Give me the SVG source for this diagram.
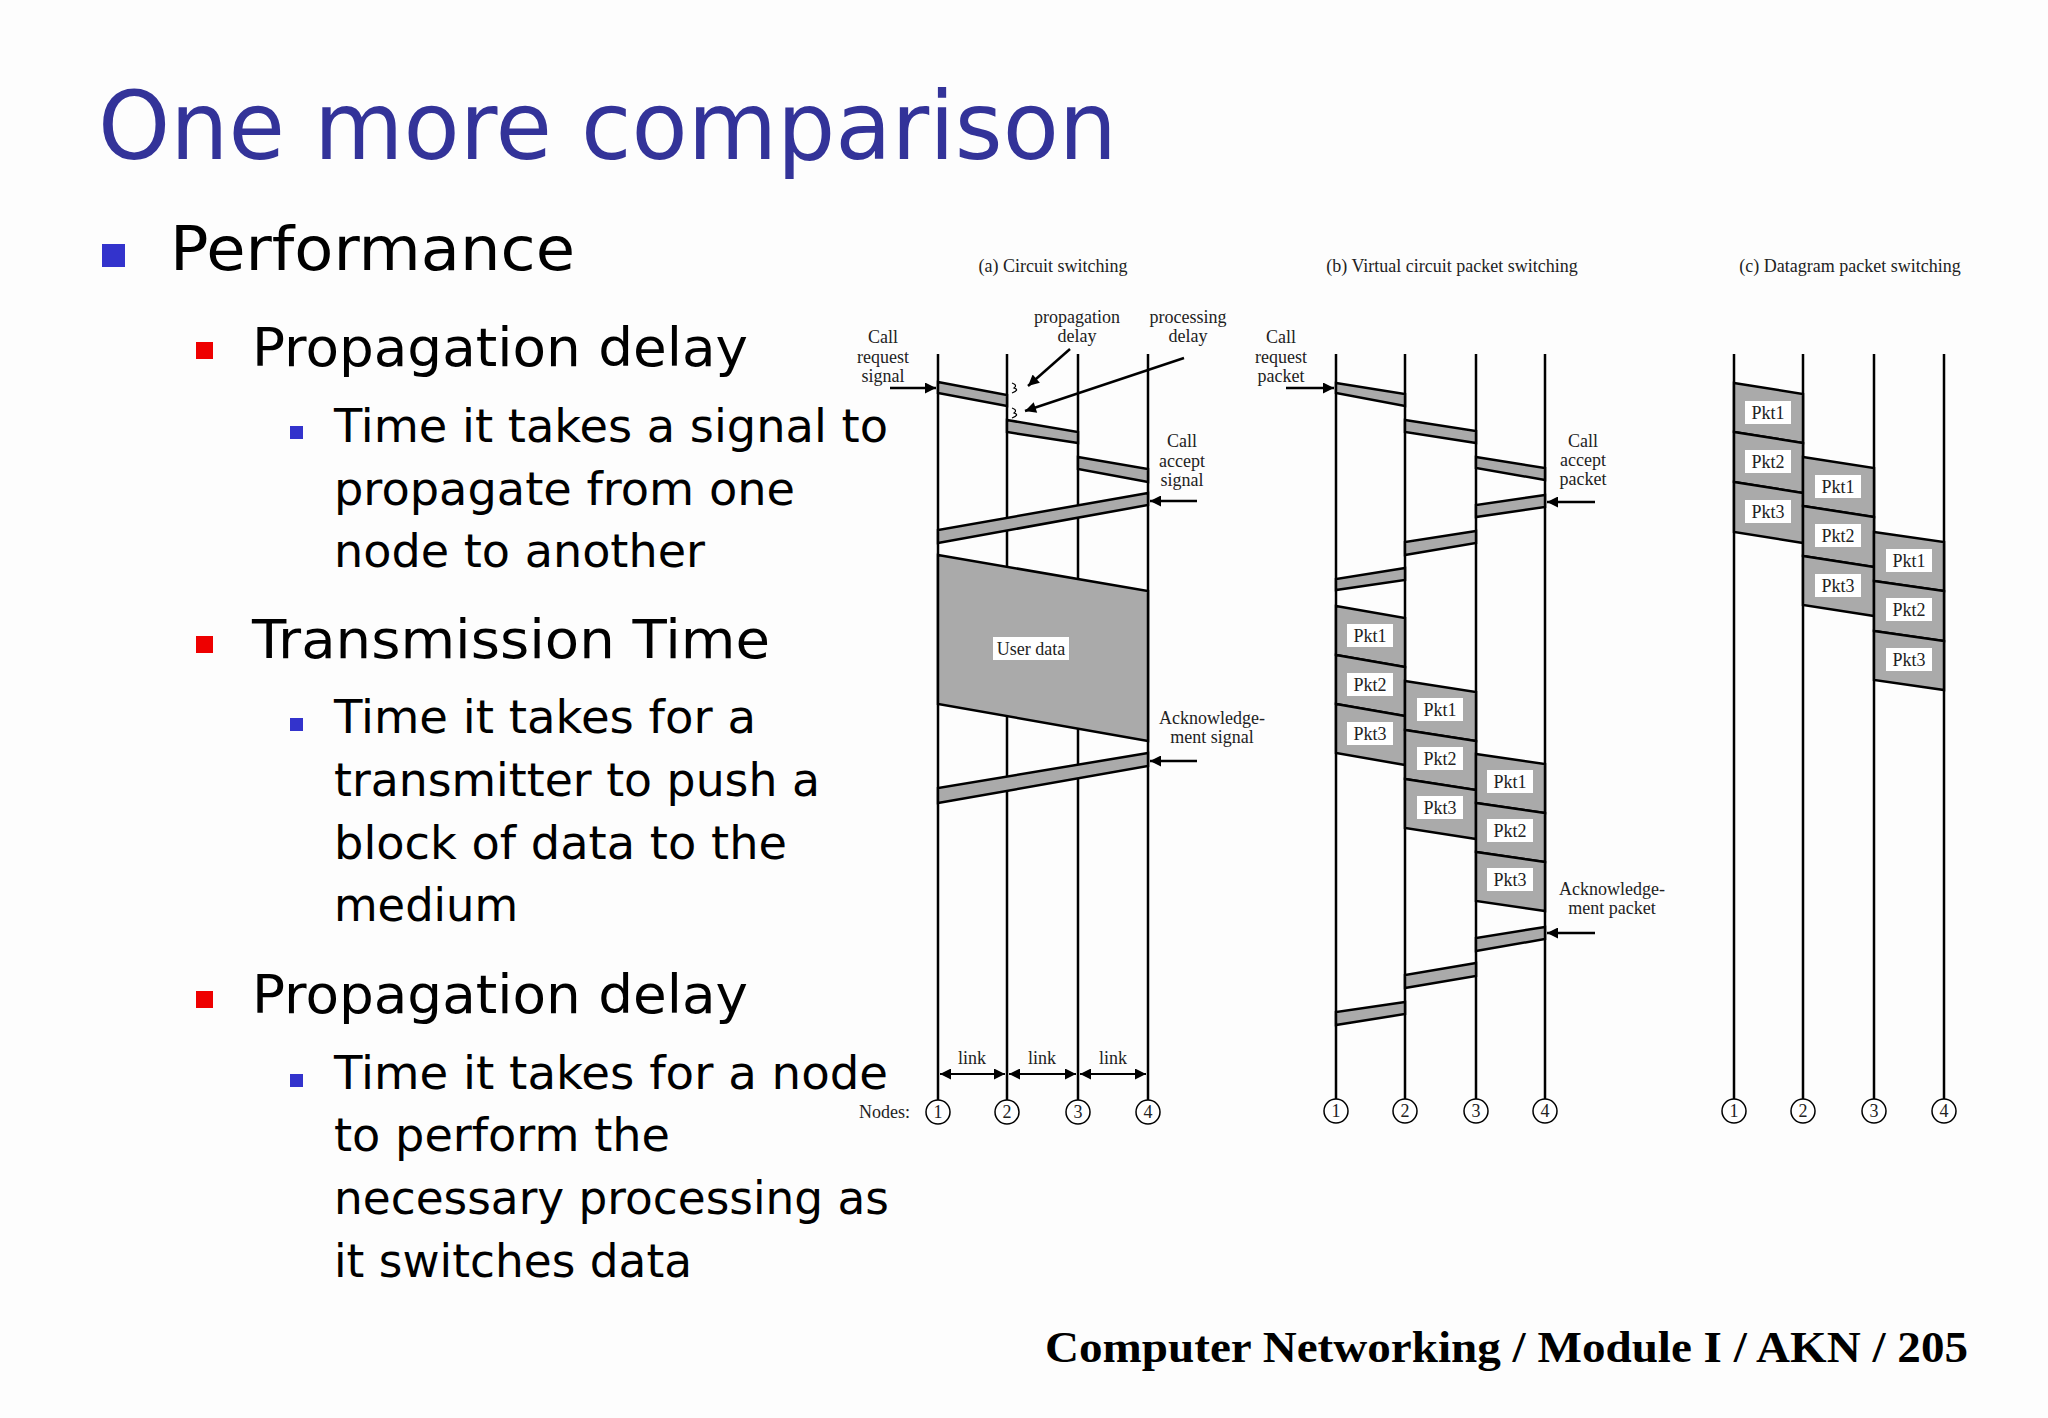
<svg xmlns="http://www.w3.org/2000/svg" width="2048" height="1418" viewBox="0 0 2048 1418">
<defs>
<style>
.t{font-family:"DejaVu Sans",Verdana,sans-serif;fill:#000}
.d{font-family:"Liberation Serif","Times New Roman",serif;font-size:18px;fill:#222}
.dm{font-family:"Liberation Serif","Times New Roman",serif;font-size:18px;fill:#222;text-anchor:middle}
.ln{stroke:#000;stroke-width:2.5;fill:none}
.b{fill:#aaa;stroke:#000;stroke-width:2.5;stroke-linejoin:miter}
.lb{fill:#fff}
.ar{stroke:#000;stroke-width:2.5;fill:none;marker-end:url(#ah)}
.da{stroke:#000;stroke-width:2;fill:none;marker-start:url(#ah2);marker-end:url(#ah)}
.nc{fill:#fff;stroke:#000;stroke-width:1.5}
</style>
<marker id="ah" viewBox="0 0 10 10" refX="10" refY="5" markerWidth="16" markerHeight="11" markerUnits="userSpaceOnUse" orient="auto"><path d="M0,0L10,5L0,10z" fill="#000"/></marker>
<marker id="ah2" viewBox="0 0 10 10" refX="0" refY="5" markerWidth="16" markerHeight="11" markerUnits="userSpaceOnUse" orient="auto"><path d="M10,0L0,5L10,10z" fill="#000"/></marker>
</defs>
<rect width="2048" height="1418" fill="#fdfdfd"/>

<g id="title"><text class="t" x="98" y="159" font-size="94" style="fill:#333399" textLength="1019" lengthAdjust="spacingAndGlyphs">One more comparison</text></g>

<g id="bullets">
<rect x="102" y="244" width="23" height="23" fill="#3333cc"/>
<text class="t" x="170" y="270" font-size="60" textLength="405" lengthAdjust="spacingAndGlyphs">Performance</text>
<rect x="196" y="342" width="17" height="17" fill="#ee0000"/>
<text class="t" x="252" y="366" font-size="54" textLength="496" lengthAdjust="spacingAndGlyphs">Propagation delay</text>
<rect x="290" y="426" width="13" height="13" fill="#3333cc"/>
<text class="t" x="334" y="442" font-size="46" textLength="554" lengthAdjust="spacingAndGlyphs">Time it takes a signal to</text>
<text class="t" x="334" y="505" font-size="46" textLength="461" lengthAdjust="spacingAndGlyphs">propagate from one</text>
<text class="t" x="334" y="567" font-size="46" textLength="371" lengthAdjust="spacingAndGlyphs">node to another</text>
<rect x="196" y="636" width="17" height="17" fill="#ee0000"/>
<text class="t" x="252" y="658" font-size="54" textLength="518" lengthAdjust="spacingAndGlyphs">Transmission Time</text>
<rect x="290" y="718" width="13" height="13" fill="#3333cc"/>
<text class="t" x="334" y="733" font-size="46" textLength="422" lengthAdjust="spacingAndGlyphs">Time it takes for a</text>
<text class="t" x="334" y="796" font-size="46" textLength="486" lengthAdjust="spacingAndGlyphs">transmitter to push a</text>
<text class="t" x="334" y="859" font-size="46" textLength="453" lengthAdjust="spacingAndGlyphs">block of data to the</text>
<text class="t" x="334" y="921" font-size="46" textLength="184" lengthAdjust="spacingAndGlyphs">medium</text>
<rect x="196" y="991" width="17" height="17" fill="#ee0000"/>
<text class="t" x="252" y="1013" font-size="54" textLength="496" lengthAdjust="spacingAndGlyphs">Propagation delay</text>
<rect x="290" y="1074" width="13" height="13" fill="#3333cc"/>
<text class="t" x="334" y="1089" font-size="46" textLength="554" lengthAdjust="spacingAndGlyphs">Time it takes for a node</text>
<text class="t" x="334" y="1151" font-size="46" textLength="336" lengthAdjust="spacingAndGlyphs">to perform the</text>
<text class="t" x="334" y="1214" font-size="46" textLength="555" lengthAdjust="spacingAndGlyphs">necessary processing as</text>
<text class="t" x="334" y="1277" font-size="46" textLength="358" lengthAdjust="spacingAndGlyphs">it switches data</text>
</g>

<g id="footer"><text x="1968" y="1362" text-anchor="end" font-family="Liberation Serif,serif" font-weight="bold" font-size="44" fill="#000" textLength="923" lengthAdjust="spacingAndGlyphs">Computer Networking / Module I / AKN / 205</text></g>

<g id="panel-a">
<text class="dm" x="1053" y="272">(a) Circuit switching</text>
<g class="ln"><line x1="938" y1="354" x2="938" y2="1100"/><line x1="1007" y1="354" x2="1007" y2="1100"/><line x1="1078" y1="354" x2="1078" y2="1100"/><line x1="1148" y1="354" x2="1148" y2="1100"/></g>
<polygon class="b" points="938,382 1007,395 1007,406 938,393"/>
<polygon class="b" points="1007,420 1078,432 1078,443 1007,432"/>
<polygon class="b" points="1078,457 1148,469 1148,482 1078,469"/>
<polygon class="b" points="1148,493 938,530 938,543 1148,505"/>
<polygon class="b" points="938,555 1148,591 1148,741 938,704"/>
<polygon class="b" points="1148,753 938,788 938,803 1148,766"/>
<rect class="lb" x="993" y="637" width="76" height="23"/>
<text class="dm" x="1031" y="655">User data</text>
<path d="M1012,383 q6,2 2,5 q6,2 -2,5 M1012,408 q6,2 2,5 q6,2 -2,5" stroke="#000" stroke-width="1.2" fill="none"/>
<text class="dm" x="883" y="343">Call</text><text class="dm" x="883" y="363">request</text><text class="dm" x="883" y="382">signal</text>
<text class="dm" x="1077" y="323">propagation</text><text class="dm" x="1077" y="342">delay</text>
<text class="dm" x="1188" y="323">processing</text><text class="dm" x="1188" y="342">delay</text>
<text class="dm" x="1182" y="447">Call</text><text class="dm" x="1182" y="467">accept</text><text class="dm" x="1182" y="486">signal</text>
<text class="dm" x="1212" y="724">Acknowledge-</text><text class="dm" x="1212" y="743">ment signal</text>
<text class="dm" x="972" y="1064">link</text><text class="dm" x="1042" y="1064">link</text><text class="dm" x="1113" y="1064">link</text>
<text class="d" x="859" y="1118">Nodes:</text>
<circle class="nc" cx="938" cy="1112" r="12"/><text class="dm" x="938" y="1118">1</text>
<circle class="nc" cx="1007" cy="1112" r="12"/><text class="dm" x="1007" y="1118">2</text>
<circle class="nc" cx="1078" cy="1112" r="12"/><text class="dm" x="1078" y="1118">3</text>
<circle class="nc" cx="1148" cy="1112" r="12"/><text class="dm" x="1148" y="1118">4</text>
</g>

<g id="panel-b">
<text class="dm" x="1452" y="272">(b) Virtual circuit packet switching</text>
<g class="ln"><line x1="1336" y1="354" x2="1336" y2="1100"/><line x1="1405" y1="354" x2="1405" y2="1100"/><line x1="1476" y1="354" x2="1476" y2="1100"/><line x1="1545" y1="354" x2="1545" y2="1100"/></g>
<polygon class="b" points="1336,383 1405,394 1405,406 1336,393"/>
<polygon class="b" points="1405,420 1476,431 1476,443 1405,432"/>
<polygon class="b" points="1476,457 1545,468 1545,480 1476,468"/>
<polygon class="b" points="1545,495 1476,505 1476,517 1545,507"/>
<polygon class="b" points="1476,531 1405,542 1405,555 1476,543"/>
<polygon class="b" points="1405,568 1336,579 1336,590 1405,580"/>
<polygon class="b" points="1545,927 1476,938 1476,951 1545,939"/>
<polygon class="b" points="1476,963 1405,975 1405,988 1476,976"/>
<polygon class="b" points="1405,1002 1336,1012 1336,1025 1405,1014"/>
<polygon class="b" points="1336,606 1405,618 1405,667 1336,655"/>
<polygon class="b" points="1336,655 1405,667 1405,716 1336,704"/>
<polygon class="b" points="1336,704 1405,716 1405,765 1336,753"/>
<polygon class="b" points="1405,681 1476,692 1476,741 1405,730"/>
<polygon class="b" points="1405,730 1476,741 1476,790 1405,779"/>
<polygon class="b" points="1405,779 1476,790 1476,839 1405,828"/>
<polygon class="b" points="1476,754 1545,764 1545,813 1476,803"/>
<polygon class="b" points="1476,803 1545,813 1545,862 1476,852"/>
<polygon class="b" points="1476,852 1545,862 1545,911 1476,901"/>
<g class="lb"><rect x="1347" y="624" width="46" height="23"/><rect x="1347" y="673" width="46" height="23"/><rect x="1347" y="722" width="46" height="23"/>
<rect x="1417" y="698" width="46" height="23"/><rect x="1417" y="747" width="46" height="23"/><rect x="1417" y="796" width="46" height="23"/>
<rect x="1487" y="770" width="46" height="23"/><rect x="1487" y="819" width="46" height="23"/><rect x="1487" y="868" width="46" height="23"/></g>
<text class="dm" x="1370" y="642">Pkt1</text><text class="dm" x="1370" y="691">Pkt2</text><text class="dm" x="1370" y="740">Pkt3</text>
<text class="dm" x="1440" y="716">Pkt1</text><text class="dm" x="1440" y="765">Pkt2</text><text class="dm" x="1440" y="814">Pkt3</text>
<text class="dm" x="1510" y="788">Pkt1</text><text class="dm" x="1510" y="837">Pkt2</text><text class="dm" x="1510" y="886">Pkt3</text>
<text class="dm" x="1281" y="343">Call</text><text class="dm" x="1281" y="363">request</text><text class="dm" x="1281" y="382">packet</text>
<text class="dm" x="1583" y="447">Call</text><text class="dm" x="1583" y="466">accept</text><text class="dm" x="1583" y="485">packet</text>
<text class="dm" x="1612" y="895">Acknowledge-</text><text class="dm" x="1612" y="914">ment packet</text>
<circle class="nc" cx="1336" cy="1111" r="12"/><text class="dm" x="1336" y="1117">1</text>
<circle class="nc" cx="1405" cy="1111" r="12"/><text class="dm" x="1405" y="1117">2</text>
<circle class="nc" cx="1476" cy="1111" r="12"/><text class="dm" x="1476" y="1117">3</text>
<circle class="nc" cx="1545" cy="1111" r="12"/><text class="dm" x="1545" y="1117">4</text>
</g>

<g id="panel-c">
<text class="dm" x="1850" y="272">(c) Datagram packet switching</text>
<g class="ln"><line x1="1734" y1="354" x2="1734" y2="1100"/><line x1="1803" y1="354" x2="1803" y2="1100"/><line x1="1874" y1="354" x2="1874" y2="1100"/><line x1="1944" y1="354" x2="1944" y2="1100"/></g>
<polygon class="b" points="1734,383 1803,394 1803,443 1734,432"/>
<polygon class="b" points="1734,432 1803,443 1803,493 1734,482"/>
<polygon class="b" points="1734,482 1803,493 1803,543 1734,532"/>
<polygon class="b" points="1803,457 1874,468 1874,517 1803,506"/>
<polygon class="b" points="1803,506 1874,517 1874,567 1803,556"/>
<polygon class="b" points="1803,556 1874,567 1874,616 1803,605"/>
<polygon class="b" points="1874,532 1944,542 1944,591 1874,581"/>
<polygon class="b" points="1874,581 1944,591 1944,641 1874,631"/>
<polygon class="b" points="1874,631 1944,641 1944,690 1874,680"/>
<g class="lb"><rect x="1745" y="401" width="46" height="23"/><rect x="1745" y="450" width="46" height="23"/><rect x="1745" y="500" width="46" height="23"/>
<rect x="1815" y="475" width="46" height="23"/><rect x="1815" y="524" width="46" height="23"/><rect x="1815" y="574" width="46" height="23"/>
<rect x="1886" y="549" width="46" height="23"/><rect x="1886" y="598" width="46" height="23"/><rect x="1886" y="648" width="46" height="23"/></g>
<text class="dm" x="1768" y="419">Pkt1</text><text class="dm" x="1768" y="468">Pkt2</text><text class="dm" x="1768" y="518">Pkt3</text>
<text class="dm" x="1838" y="493">Pkt1</text><text class="dm" x="1838" y="542">Pkt2</text><text class="dm" x="1838" y="592">Pkt3</text>
<text class="dm" x="1909" y="567">Pkt1</text><text class="dm" x="1909" y="616">Pkt2</text><text class="dm" x="1909" y="666">Pkt3</text>
<circle class="nc" cx="1734" cy="1111" r="12"/><text class="dm" x="1734" y="1117">1</text>
<circle class="nc" cx="1803" cy="1111" r="12"/><text class="dm" x="1803" y="1117">2</text>
<circle class="nc" cx="1874" cy="1111" r="12"/><text class="dm" x="1874" y="1117">3</text>
<circle class="nc" cx="1944" cy="1111" r="12"/><text class="dm" x="1944" y="1117">4</text>
</g>

<g id="connectors">
<line class="ar" x1="890" y1="388" x2="936" y2="388"/>
<line class="ar" x1="1070" y1="349" x2="1028" y2="386"/>
<line class="ar" x1="1184" y1="358" x2="1025" y2="411"/>
<line class="ar" x1="1197" y1="501" x2="1150" y2="501"/>
<line class="ar" x1="1197" y1="761" x2="1150" y2="761"/>
<line class="da" x1="940" y1="1074" x2="1005" y2="1074"/>
<line class="da" x1="1009" y1="1074" x2="1076" y2="1074"/>
<line class="da" x1="1080" y1="1074" x2="1146" y2="1074"/>
<line class="ar" x1="1286" y1="388" x2="1334" y2="388"/>
<line class="ar" x1="1595" y1="502" x2="1547" y2="502"/>
<line class="ar" x1="1595" y1="933" x2="1547" y2="933"/>
</g>
</svg>
